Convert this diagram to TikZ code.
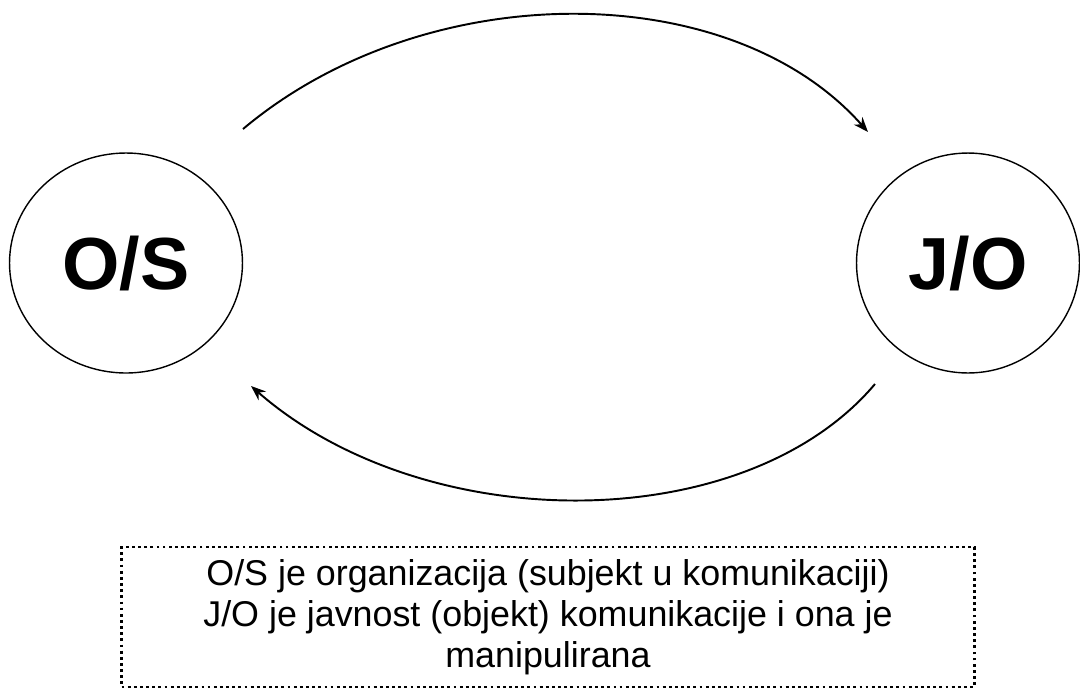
\documentclass[tikz,border=0pt]{standalone}
\usepackage{fontspec}
\setmainfont{Liberation Sans}
\usetikzlibrary{arrows.meta,shapes.geometric}

\begin{document}
\begin{tikzpicture}[x=0.02cm,y=-0.02cm]
\tikzset{
  party/.style={draw, ellipse, line width=0.8pt, inner sep=0pt,
    font=\fontsize{42}{50}\selectfont\bfseries},
  flow/.style={line width=1.1pt, -{Stealth[length=8.5pt,width=6.5pt]}},
  note/.style={draw, line width=1.3pt, dash pattern=on 1.6pt off 1.9pt,
    align=center, inner sep=0pt, font=\fontsize{20.4}{23.4}\selectfont}
}
\useasboundingbox (0,0) rectangle (1080,691);
\node[party, minimum width=4.66cm, minimum height=4.4cm](os) at (126,263){O/S};
\node[party, minimum width=4.46cm, minimum height=4.4cm](jo) at (968,263){J/O};
\coordinate (os top) at (243,129);
\coordinate (jo top) at (868,132);
\coordinate (jo bot) at (875,384);
\coordinate (os bot) at (251,386);
\draw[flow] (os top) .. controls (425,-24) and (730,-24) .. (jo top);
\draw[flow] (jo bot) .. controls (745,538) and (425,538) .. (os bot);
\node[note, minimum width=17.06cm, minimum height=2.8cm](legend) at (548,617)
  {O/S je organizacija (subjekt u komunikaciji)\\
   J/O je javnost (objekt) komunikacije i ona je\\
   manipulirana};
\end{tikzpicture}
\end{document}
